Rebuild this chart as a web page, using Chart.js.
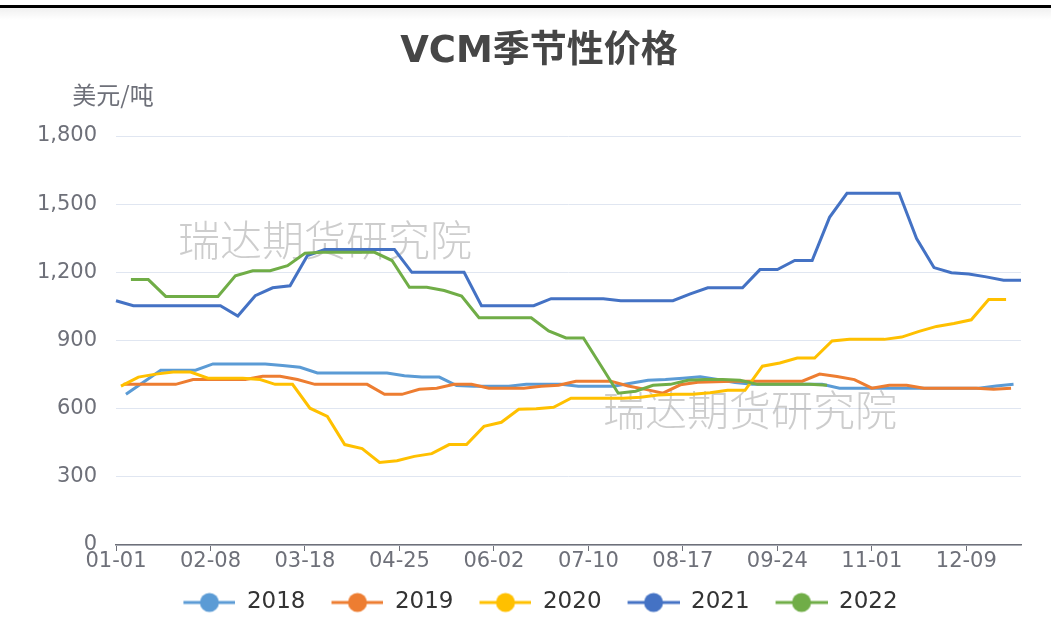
<!DOCTYPE html>
<html>
<head>
<meta charset="utf-8">
<script src="https://cdn.jsdelivr.net/npm/chart.js@4.4.0/dist/chart.umd.min.js"></script>
<style>
  html, body { margin: 0; padding: 0; background: #fff; }
</style>
</head>
<body>
<canvas id="seasonChart" width="1051" height="638"></canvas>
<script>
const years = ['2018', '2019', '2020', '2021', '2022'];
// first weekly print of each year (Fridays), MM-DD
const firstDates = ['01-05', '01-04', '01-03', '01-01', '01-07'];
const lineColors = ['#5b9bd5', '#ed7d31', '#ffc000', '#4472c4', '#70ad47'];

// weekly VCM prices, USD/t
const v2018 = [663, 716, 769, 769, 769, 797, 797, 797, 797, 790, 782, 757, 757, 757, 757, 757, 745, 739, 739, 702,
  699, 699, 699, 707, 707, 707, 699, 699, 699, 712, 725, 728, 734, 740, 728, 715, 707, 707, 707, 707,
  707, 690, 690, 690, 690, 690, 690, 690, 690, 690, 700, 707];
const v2019 = [707, 707, 707, 707, 728, 728, 728, 728, 743, 743, 728, 707, 707, 707, 707, 663, 663, 685, 690, 707,
  707, 690, 690, 690, 699, 703, 721, 721, 721, 700, 685, 668, 705, 716, 718, 721, 721, 721, 721, 721,
  752, 742, 728, 690, 703, 703, 690, 690, 690, 690, 685, 690];
const v2020 = [699, 739, 752, 761, 761, 734, 734, 734, 728, 707, 707, 602, 566, 442, 424, 363, 371, 390, 402, 442,
  442, 522, 540, 597, 600, 606, 646, 646, 646, 646, 650, 660, 663, 663, 670, 681, 681, 787, 801, 823,
  823, 898, 905, 905, 905, 915, 940, 962, 975, 991, 1080, 1080];
const v2021 = [1075, 1053, 1053, 1053, 1053, 1053, 1053, 1008, 1097, 1132, 1141, 1274, 1300, 1300, 1300, 1300, 1300, 1200, 1200, 1200,
  1200, 1053, 1053, 1053, 1053, 1084, 1084, 1084, 1084, 1075, 1075, 1075, 1075, 1105, 1132, 1132, 1132, 1212, 1212, 1252,
  1252, 1442, 1548, 1548, 1548, 1548, 1349, 1221, 1198, 1193, 1180, 1165, 1165];
const v2022 = [1168, 1168, 1094, 1094, 1094, 1094, 1185, 1207, 1207, 1229, 1284, 1288, 1288, 1288, 1288, 1252, 1134, 1134, 1120, 1096,
  1000, 1000, 1000, 1000, 942, 911, 911, 790, 668, 677, 703, 707, 725, 728, 728, 725, 707, 707, 707, 707, 703];
const seriesValues = [v2018, v2019, v2020, v2021, v2022];

const tickLabels = ['01-01', '02-08', '03-18', '04-25', '06-02', '07-10', '08-17', '09-24', '11-01', '12-09'];
const yMax = 1800;
const yStep = 300;

const pad = n => String(n).padStart(2, '0');
const mmdd = d => pad(d.getMonth() + 1) + '-' + pad(d.getDate());

// one category per calendar day
const dayLabels = [];
for (let d = new Date(2021, 0, 1); d.getFullYear() === 2021; d.setDate(d.getDate() + 1)) {
  dayLabels.push(mmdd(d));
}

function weekly(year, first, values) {
  const [m, dd] = first.split('-').map(Number);
  return values.map((v, i) => ({ x: mmdd(new Date(Number(year), m - 1, dd + 7 * i)), y: v }));
}

// line-with-dot legend marker, 10px of blank space on the left acts as item gap
function legendIcon(color) {
  const c = document.createElement('canvas');
  c.width = 62; c.height = 22;
  const g = c.getContext('2d');
  g.strokeStyle = color;
  g.lineWidth = 3;
  g.beginPath(); g.moveTo(10, 11); g.lineTo(62, 11); g.stroke();
  g.fillStyle = color;
  g.beginPath(); g.arc(36, 11, 9.5, 0, Math.PI * 2); g.closePath(); g.fill();
  return c;
}
const legendIcons = lineColors.map(legendIcon);

const TICK_FONT = { family: "'DejaVu Sans', 'Noto Sans CJK SC', sans-serif", size: 21 };
const GRAY = '#6e7079';

const decor = {
  id: 'decor',
  beforeDraw(chart) {
    const { ctx, width, height } = chart;
    ctx.save();
    ctx.fillStyle = '#fff';
    ctx.fillRect(0, 0, width, height);
    ctx.fillStyle = '#000';
    ctx.fillRect(0, 5, width, 3);
    const grad = ctx.createLinearGradient(0, 8, 0, 20);
    grad.addColorStop(0, 'rgba(0,0,0,0.06)');
    grad.addColorStop(1, 'rgba(0,0,0,0)');
    ctx.fillStyle = grad;
    ctx.fillRect(0, 8, width, 12);

    ctx.fillStyle = '#464646';
    ctx.font = "bold 37px 'DejaVu Sans', 'Noto Sans CJK SC', sans-serif";
    ctx.textAlign = 'center';
    ctx.textBaseline = 'middle';
    ctx.fillText('VCM季节性价格', 539, 52);

    ctx.fillStyle = GRAY;
    ctx.font = "24px 'Noto Sans CJK SC', sans-serif";
    ctx.fillText('美元/吨', 113, 95);
    ctx.restore();
  },
  beforeDatasetsDraw(chart) {
    const { ctx } = chart;
    ctx.save();
    ctx.fillStyle = 'rgba(150,150,150,0.48)';
    ctx.font = "300 42px 'Noto Sans CJK SC', sans-serif";
    ctx.textAlign = 'left';
    ctx.textBaseline = 'middle';
    ctx.fillText('瑞达期货研究院', 178, 240);
    ctx.fillText('瑞达期货研究院', 603, 410);
    ctx.restore();
  },
  afterLayout(chart) {
    if (chart.legend) {
      chart.legend.left += 25;
      chart.legend.right += 25;
    }
  }
};

const datasets = years.map((y, i) => ({
  label: y,
  data: weekly(y, firstDates[i], seriesValues[i]),
  borderColor: lineColors[i],
  backgroundColor: lineColors[i],
  borderWidth: 3,
  pointRadius: 0,
  pointHoverRadius: 0,
  tension: 0,
  order: -i
}));

new Chart(document.getElementById('seasonChart'), {
  type: 'line',
  data: { labels: dayLabels, datasets },
  options: {
    responsive: false,
    animation: false,
    layout: { padding: { top: 136, left: 0, right: 30, bottom: 14 } },
    plugins: {
      title: { display: false },
      tooltip: { enabled: false },
      legend: {
        position: 'bottom',
        labels: {
          usePointStyle: true,
          pointStyleWidth: 62,
          padding: 16,
          color: '#333',
          font: { family: "'DejaVu Sans', sans-serif", size: 23 },
          sort: (a, b) => a.datasetIndex - b.datasetIndex,
          generateLabels: chart => chart.data.datasets.map((ds, i) => ({
            text: ds.label,
            datasetIndex: i,
            pointStyle: legendIcons[i],
            fillStyle: lineColors[i],
            strokeStyle: lineColors[i],
            lineWidth: 0,
            hidden: !chart.isDatasetVisible(i),
            fontColor: '#333'
          }))
        }
      }
    },
    scales: {
      x: {
        type: 'category',
        afterFit: scale => { scale.height = 30; },
        ticks: {
          autoSkip: false,
          maxRotation: 0,
          minRotation: 0,
          padding: -2,
          color: GRAY,
          font: TICK_FONT,
          callback: (value, index) => tickLabels.includes(dayLabels[index]) ? dayLabels[index] : null
        },
        grid: { drawOnChartArea: false, drawTicks: true, tickLength: 6, color: GRAY },
        border: { display: true, color: GRAY, width: 1.5 }
      },
      y: {
        min: 0,
        max: yMax,
        afterFit: scale => { scale.width = 116; },
        ticks: {
          stepSize: yStep,
          padding: 19,
          color: GRAY,
          font: TICK_FONT,
          callback: v => v.toLocaleString('en-US')
        },
        grid: { color: '#e0e6f1', lineWidth: 1, drawTicks: false },
        border: { display: false }
      }
    }
  },
  plugins: [decor]
});
</script>
</body>
</html>
